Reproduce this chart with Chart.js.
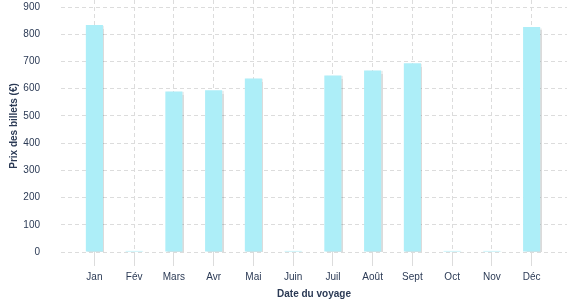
<!DOCTYPE html>
<html lang="fr">
<head>
    <meta charset="UTF-8">
    <title>Prix des billets</title>
    <script src="https://cdn.jsdelivr.net/npm/chart.js@4.4.0/dist/chart.umd.min.js"></script>
    <style>
        html, body { margin: 0; padding: 0; background: #fff; }
        #wrap { width: 577px; height: 300px; }
    </style>
</head>
<body>
    <div id="wrap"><canvas id="prixChart"></canvas></div>

    <script>
        // months and ticket prices (EUR)
        const mois = ["Jan", "Fév", "Mars", "Avr", "Mai", "Juin", "Juil", "Août", "Sept", "Oct", "Nov", "Déc"];
        const prix = [834, 4, 590, 594, 638, 4, 649, 667, 694, 4, 4, 827];
        const yTicks = [0, 100, 200, 300, 400, 500, 600, 700, 800, 900];

        const textColor = "#2b3a55";
        const gridColor = "#dcdcdc";
        const font = "Liberation Sans";

        // small drop shadow on the bars
        const barShadow = {
            id: "barShadow",
            beforeDatasetDraw(chart) {
                const c = chart.ctx;
                c.save();
                c.shadowColor = "rgba(0,0,0,0.14)";
                c.shadowOffsetX = 1.5;
                c.shadowOffsetY = 1;
                c.shadowBlur = 1;
            },
            afterDatasetDraw(chart) {
                chart.ctx.restore();
            }
        };

        const ctx = document.getElementById("prixChart").getContext("2d");

        new Chart(ctx, {
            type: "bar",
            data: {
                datasets: [{
                    label: "Prix des billets (€)",
                    data: prix.map((v, i) => ({ x: i, y: v })),
                    backgroundColor: "#adeef8",
                    borderWidth: 0,
                    barPercentage: 0.43,
                    categoryPercentage: 1
                }]
            },
            plugins: [barShadow],
            options: {
                responsive: true,
                maintainAspectRatio: false,
                animation: false,
                layout: { padding: { left: 4, right: 10, top: 0, bottom: 0 } },
                plugins: {
                    legend: { display: false },
                    tooltip: { enabled: false }
                },
                scales: {
                    x: {
                        type: "linear",
                        min: -0.84,
                        max: 11.89,
                        offset: false,
                        grid: { offset: false, color: gridColor, tickLength: 14, tickColor: gridColor },
                        border: { display: false, dash: [4, 3] },
                        ticks: {
                            stepSize: 1,
                            includeBounds: false,
                            autoSkip: false,
                            maxRotation: 0,
                            padding: 5,
                            color: textColor,
                            font: { family: font, size: 10 },
                            callback: v => mois[v] || ""
                        },
                        title: {
                            display: true,
                            text: "Date du voyage",
                            color: textColor,
                            font: { family: font, size: 10, weight: "bold" },
                            padding: { top: 0, bottom: 0 }
                        }
                    },
                    y: {
                        min: 0,
                        max: 926,
                        afterBuildTicks: axis => { axis.ticks = yTicks.map(v => ({ value: v })); },
                        afterFit: axis => { axis.width = 57; axis.paddingTop = 0; },
                        border: { display: false, dash: [4, 3] },
                        grid: { color: gridColor, drawTicks: false },
                        ticks: {
                            padding: 21,
                            color: textColor,
                            font: { family: font, size: 10 }
                        },
                        title: {
                            display: true,
                            text: "Prix des billets (€)",
                            color: textColor,
                            font: { family: font, size: 10, weight: "bold" },
                            padding: { top: 4, bottom: 4 }
                        }
                    }
                }
            }
        });
    </script>
</body>
</html>
